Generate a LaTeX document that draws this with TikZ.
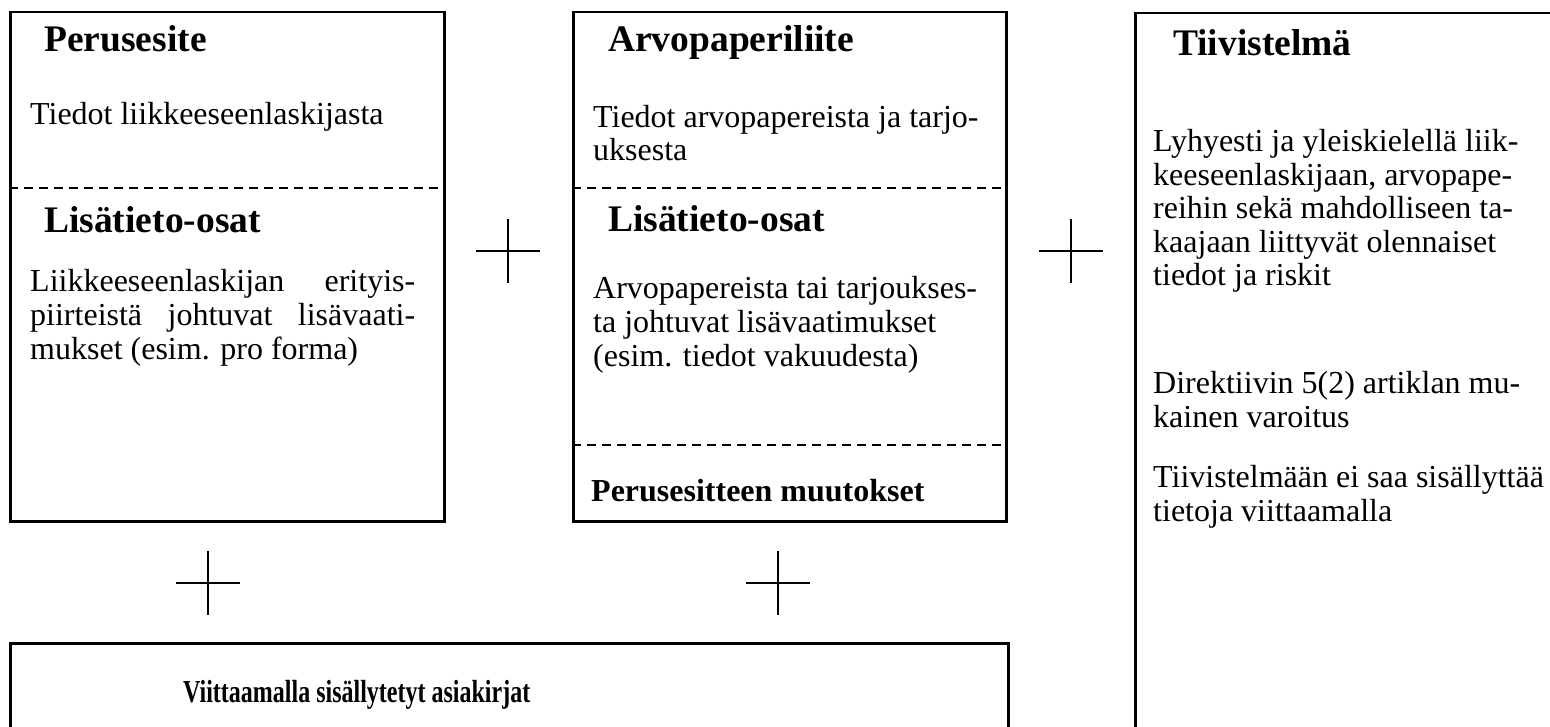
\documentclass[tikz,border=0pt]{standalone}
\usepackage{fontspec}
\setmainfont{Liberation Serif}
\usepackage{graphicx}

\begin{document}
\begin{tikzpicture}[x=1pt, y=-1pt]

\tikzstyle{box}=[rectangle, draw, line width=2.5pt, anchor=north west, inner sep=0pt]
\tikzstyle{head}=[anchor=base west, inner sep=0pt, font=\fontsize{37.5}{40}\selectfont\bfseries]
\tikzstyle{body}=[anchor=base west, inner sep=0pt, align=left, font=\fontsize{32}{33.5}\selectfont]
\tikzstyle{bodybold}=[anchor=base west, inner sep=0pt, font=\fontsize{32}{33.5}\selectfont\bfseries]
\tikzstyle{split}=[line width=2pt, dash pattern=on 9pt off 6pt]
\tikzstyle{plus}=[line width=2pt]

\useasboundingbox (0,0) rectangle (1550,727);
\clip (0,0) rectangle (1550,727);

% the boxes
\node (perus) [box, minimum width=434, minimum height=509] at (9,11) {};
\node (arvo) [box, minimum width=433, minimum height=509] at (572,11) {};
\node (tiiv) [box, minimum width=500, minimum height=800] at (1134,12) {};
\node (viit) [box, minimum width=998, minimum height=200] at (9,642) {};

% dashed parts
\coordinate (cutA) at (0,188);
\coordinate (cutB) at (0,445);
\draw [split] (perus.west |- cutA) -- (perus.east |- cutA);
\draw [split] (arvo.west |- cutA) -- (arvo.east |- cutA);
\draw [split] (arvo.west |- cutB) -- (arvo.east |- cutB);

% texts (base = last line)
\node (perusH) [head] at (44,52) {Perusesite};
\node (perusTxt) [body] at (30,125) {Tiedot liikkeeseenlaskijasta};
\node (lisaH1) [head] at (44,233) {Lisätieto-osat};
\node (lisaTxt1) [body] at (30,359) {\makebox[385pt][s]{Liikkeeseenlaskijan erityis-}\\
  \makebox[385pt][s]{piirteistä johtuvat lisävaati-}\\mukset (esim. pro forma)};

\node (arvoH) [head] at (608,52) {Arvopaperiliite};
\node (arvoTxt) [body] at (593,161) {Tiedot arvopapereista ja tarjo-\\uksesta};
\node (lisaH2) [head] at (608,232) {Lisätieto-osat};
\node (lisaTxt2) [body] at (593,366) {Arvopapereista tai tarjoukses-\\ta johtuvat lisävaatimukset\\(esim. tiedot vakuudesta)};
\node (muutos) [bodybold] at (591,501) {Perusesitteen muutokset};

\node (tiivH) [head] at (1173,56) {Tiivistelmä};
\node (tiivTxt1) [body] at (1153,286) {Lyhyesti ja yleiskielellä liik-\\keeseenlaskijaan, arvopape-\\reihin sekä mahdolliseen ta-\\kaajaan liittyvät olennaiset\\tiedot ja riskit};
\node (tiivTxt2) [body] at (1153,427) {Direktiivin 5(2) artiklan mu-\\kainen varoitus};
\node (tiivTxt3) [body] at (1153,521) {Tiivistelmään ei saa sisällyttää\\tietoja viittaamalla};

\node (viitH) [bodybold] at (183,702) {\scalebox{0.75}[1]{Viittaamalla sisällytetyt asiakirjat}};

% plus signs
\foreach \px/\py in {508/251, 1071/251, 208/583, 778/583}
  \draw [plus] (\px-32,\py) -- (\px+32,\py) (\px,\py-32) -- (\px,\py+32);

\end{tikzpicture}
\end{document}
